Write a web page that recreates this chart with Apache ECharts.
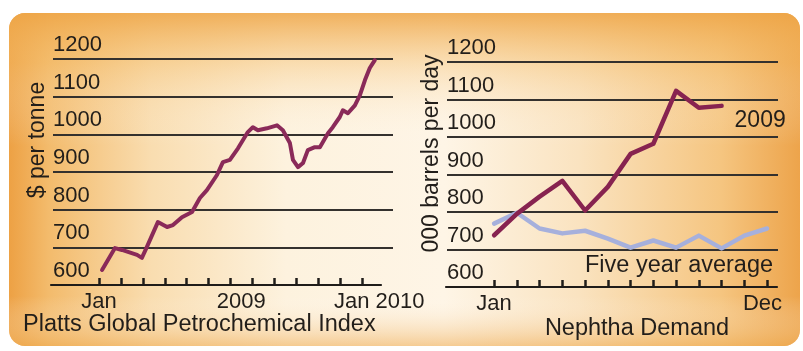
<!DOCTYPE html>
<html>
<head>
<meta charset="utf-8">
<script src="https://cdn.jsdelivr.net/npm/echarts@6/dist/echarts.min.js"></script>
<style>
    html, body { margin: 0; padding: 0; background: #fff; }
    #chart { width: 803px; height: 351px; }
</style>
</head>
<body>
<div id="chart"></div>
<script>
    // left panel: Platts index, x = months after Jan 2009
    var petroMonth = [0.14, 0.73, 1.05, 1.74, 1.96, 2.19, 2.69, 3.11, 3.38, 3.79, 4.25, 4.61, 4.93, 5.39, 5.66, 5.98,
        6.35, 6.80, 7.03, 7.26, 7.67, 8.13, 8.40, 8.72, 8.86, 9.09, 9.32, 9.54, 9.86, 10.09, 10.46, 10.68, 11.00,
        11.14, 11.37, 11.69, 11.92, 12.15, 12.37, 12.60];
    var petroPrice = [640, 698, 693, 680, 672, 701, 767, 754, 759, 780, 794, 831, 852, 892, 926, 932,
        963, 1006, 1019, 1011, 1016, 1024, 1011, 977, 932, 913, 924, 958, 966, 966, 1003, 1019, 1046,
        1064, 1056, 1077, 1104, 1144, 1176, 1197];
    var petroLabelAt = [0, 6.5, 12.8];
    var petroLabelText = ['Jan', '2009', 'Jan 2010'];

    // right panel: naphtha demand, x = month index
    var naphtha2009 = [738, 795, 841, 883, 804, 867, 955, 982, 1123, 1078, 1083];
    var naphthaAvg = [769, 798, 756, 743, 750, 729, 705, 724, 705, 737, 703, 737, 756];
    var naphthaMonth = [0, 1, 2, 3, 4, 5, 6, 7, 8, 9, 10, 11, 12];
    var naphthaLabelAt = [0, 11.8];
    var naphthaLabelText = ['Jan', 'Dec'];

    var yMin = 600, yMax = 1200, yStep = 100;

    var FONT = 'Liberation Sans';
    var TEXT = '#221e1a';
    var GRIDLINE = '#34312e';
    var AXIS = '#1f1c19';

    function pairs(xs, ys) {
        return ys.map(function (v, i) { return [xs[i], v]; });
    }
    function labelFor(at, text) {
        return function (v) {
            var best = 0;
            for (var i = 1; i < at.length; i++) {
                if (Math.abs(at[i] - v) < Math.abs(at[best] - v)) best = i;
            }
            return text[best];
        };
    }

    function valueY(gridIndex, nameText, namePad) {
        return {
            type: 'value', gridIndex: gridIndex, min: yMin, max: yMax, interval: yStep,
            name: nameText, nameLocation: 'middle', nameRotate: 90, nameGap: 3,
            nameTextStyle: { fontFamily: FONT, fontSize: 23, color: TEXT, padding: [0, 0, 0, namePad] },
            axisLine: { show: false }, axisTick: { show: false },
            axisLabel: {
                inside: true, margin: 0, verticalAlign: 'bottom', padding: [0, 0, 3, 0],
                formatter: function (v) { return String(v); },
                fontFamily: FONT, fontSize: 22, color: TEXT
            },
            splitLine: { show: true, showMinLine: false, lineStyle: { color: GRIDLINE, width: 2.2 } }
        };
    }
    function hiddenY(gridIndex) {
        return { type: 'value', gridIndex: gridIndex, min: yMin, max: yMax, show: false };
    }
    // axis line + labels
    function lineX(gridIndex, min, max, labelAt, labelText) {
        return {
            type: 'value', gridIndex: gridIndex, min: min, max: max,
            axisLine: { show: true, lineStyle: { color: AXIS, width: 2.2 } },
            axisTick: { show: false },
            axisLabel: {
                show: true, customValues: labelAt, formatter: labelFor(labelAt, labelText), margin: 6,
                fontFamily: FONT, fontSize: 22, color: TEXT
            },
            splitLine: { show: false }
        };
    }
    // monthly ticks only, first to last tick
    function tickX(gridIndex) {
        return {
            type: 'value', gridIndex: gridIndex, min: 0, max: 12, interval: 1,
            axisLine: { show: false },
            axisTick: { show: true, inside: true, length: 7, lineStyle: { color: AXIS, width: 2.5 } },
            axisLabel: { show: false },
            splitLine: { show: false }
        };
    }

    var chart = echarts.init(document.getElementById('chart'), null, { renderer: 'canvas' });

    var option = {
        animation: false,
        backgroundColor: '#ffffff',
        graphic: [
            {
                type: 'rect', z: -100, silent: true,
                shape: { x: 9, y: 13, width: 791, height: 333, r: 16 },
                style: {
                    fill: new echarts.graphic.LinearGradient(0, 0, 1, 0, [
                        { offset: 0, color: '#eda144' },
                        { offset: 0.05, color: '#f3bb6c' },
                        { offset: 0.18, color: '#f9ddb0' },
                        { offset: 0.35, color: '#fdf2de' },
                        { offset: 0.55, color: '#fef5e6' },
                        { offset: 0.72, color: '#fae3c0' },
                        { offset: 0.9, color: '#f5c580' },
                        { offset: 1, color: '#eda44b' }
                    ])
                }
            },
            {
                type: 'rect', z: -99, silent: true,
                shape: { x: 9, y: 13, width: 791, height: 333, r: 16 },
                style: {
                    fill: new echarts.graphic.LinearGradient(0, 0, 0, 1, [
                        { offset: 0, color: 'rgba(238,165,70,0.85)' },
                        { offset: 0.15, color: 'rgba(244,188,105,0.4)' },
                        { offset: 0.4, color: 'rgba(255,255,255,0)' },
                        { offset: 0.85, color: 'rgba(255,255,255,0)' },
                        { offset: 1, color: 'rgba(238,170,80,0.55)' }
                    ])
                }
            }
        ],
        title: [
            {
                text: 'Platts Global Petrochemical Index', left: 18, top: 308,
                textStyle: { fontFamily: FONT, fontSize: 23.5, fontWeight: 'normal', color: TEXT }
            },
            {
                text: 'Nephtha Demand', left: 632, top: 312, textAlign: 'center',
                textStyle: { fontFamily: FONT, fontSize: 23.5, fontWeight: 'normal', color: TEXT }
            }
        ],
        grid: [
            { left: 53, right: 410, top: 59, bottom: 66 },   // left plot
            { left: 51, right: 422, top: 59, bottom: 66 },   // left x axis line
            { left: 99, right: 441, top: 59, bottom: 66 },   // left month ticks
            { left: 447, right: 25, top: 62, bottom: 64 },   // right plot
            { left: 446, right: 26, top: 62, bottom: 64 },   // right x axis line
            { left: 494, right: 36, top: 62, bottom: 64 }    // right month ticks
        ],
        xAxis: [
            { type: 'value', gridIndex: 0, min: -2.1, max: 13.43, show: false },
            lineX(1, -2.19, 12.88, petroLabelAt, petroLabelText),
            tickX(2),
            { type: 'value', gridIndex: 3, min: -2.07, max: 12.48, show: false },
            lineX(4, -2.11, 12.44, naphthaLabelAt, naphthaLabelText),
            tickX(5)
        ],
        yAxis: [
            valueY(0, '$ per tonne', 64),
            hiddenY(1),
            hiddenY(2),
            valueY(3, '000 barrels per day', 42),
            hiddenY(4),
            hiddenY(5)
        ],
        series: [
            {
                name: 'Platts', type: 'line', xAxisIndex: 0, yAxisIndex: 0,
                data: pairs(petroMonth, petroPrice), showSymbol: false, symbol: 'none',
                lineStyle: { color: '#8a2a59', width: 4, join: 'round', cap: 'round' }
            },
            {
                name: 'Five year average', type: 'line', xAxisIndex: 3, yAxisIndex: 3,
                data: pairs(naphthaMonth, naphthaAvg), symbol: 'none',
                lineStyle: { color: '#a6b0dc', width: 4.5, join: 'round', cap: 'round' },
                endLabel: {
                    show: true, formatter: 'Five year average', align: 'right', offset: [-2, 37],
                    fontFamily: FONT, fontSize: 23.5, color: TEXT
                }
            },
            {
                name: '2009', type: 'line', xAxisIndex: 3, yAxisIndex: 3,
                data: pairs(naphthaMonth, naphtha2009), symbol: 'none',
                lineStyle: { color: '#872350', width: 4.5, join: 'round', cap: 'round' },
                endLabel: {
                    show: true, formatter: '2009', offset: [5, 15],
                    fontFamily: FONT, fontSize: 23, color: TEXT
                }
            }
        ]
    };

    chart.setOption(option);
    window.addEventListener('resize', function () {
        chart.resize();
    });
</script>
</body>
</html>
